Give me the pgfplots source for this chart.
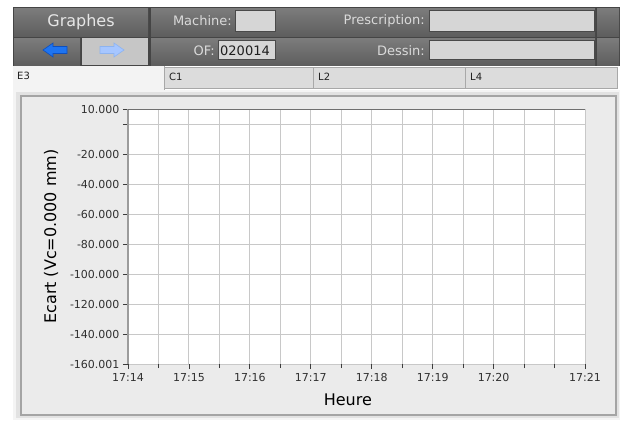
\documentclass[border=0pt]{standalone}
\usepackage{pgfplots}
\pgfplotsset{compat=1.18}
\usepackage{fontspec}
\setmainfont{DejaVu Sans}
\definecolor{darkbase}{HTML}{454545}
\definecolor{btntop}{HTML}{7C7C7C}
\definecolor{btnbot}{HTML}{5E5E5E}
\definecolor{inputbg}{HTML}{D6D6D6}
\definecolor{inputbd}{HTML}{4A4A4A}
\definecolor{labtxt}{HTML}{DADADA}
\definecolor{titletxt}{HTML}{E6E6E6}
\definecolor{panelbg}{HTML}{EBEBEB}
\definecolor{panelbd}{HTML}{A4A4A4}
\definecolor{frameA}{HTML}{F4F4F4}
\definecolor{frameB}{HTML}{E2E2E2}
\definecolor{tabbg}{HTML}{DCDCDC}
\definecolor{tabbd}{HTML}{A8A8A8}
\definecolor{tabsel}{HTML}{F3F3F3}
\definecolor{tabtxt}{HTML}{202020}
\definecolor{btnlight}{HTML}{C6C6C6}
\definecolor{gridc}{HTML}{C8C8C8}
\definecolor{blueA}{HTML}{1E74F0}
\definecolor{blueAd}{HTML}{0D4FBF}
\definecolor{blueB}{HTML}{A6C6FF}
\definecolor{blueBd}{HTML}{8DB3F0}
\definecolor{valtxt}{HTML}{1E1E1E}
\definecolor{tickc}{HTML}{3C3C3C}
\definecolor{ticktxt}{HTML}{303030}
\definecolor{yaxc}{HTML}{9C9C9C}
\definecolor{topc}{HTML}{707070}
\begin{document}
\begin{tikzpicture}
\path[use as bounding box, fill=white] (0,0) rectangle (627bp,-423bp);
\begin{scope}[x=1bp,y=-1bp]
  % dark header
  \fill[darkbase] (13,7) rectangle (620,66);
  % row 1
  \shade[top color=btntop,bottom color=btnbot] (14,8) rectangle (148,36);
  \shade[top color=btntop,bottom color=btnbot] (151,8) rectangle (595,36);
  \shade[top color=btntop,bottom color=btnbot] (597,8) rectangle (619,36);
  % row 2
  \shade[top color=btntop,bottom color=btnbot] (14,38) rectangle (80,65);
  \fill[btnlight] (82,38) rectangle (148,65);
  \shade[top color=btntop,bottom color=btnbot] (151,38) rectangle (595,65);
  \shade[top color=btntop,bottom color=btnbot] (597,38) rectangle (619,65);
  % title
  \node[text=titletxt, font=\fontsize{16bp}{18bp}\selectfont] at (81,22) {Graphes};
  % arrows
  \filldraw[fill=blueA, draw=blueAd, line width=0.6bp] (43,50) -- (53,43) -- (53,46.5) -- (67,46.5) -- (67,53.5) -- (53,53.5) -- (53,57) -- cycle;
  \filldraw[fill=blueB, draw=blueBd, line width=0.6bp] (124,50) -- (114,43) -- (114,46.5) -- (100,46.5) -- (100,53.5) -- (114,53.5) -- (114,57) -- cycle;
  % input boxes
  \filldraw[fill=inputbg, draw=inputbd, line width=1bp] (235,10) rectangle (275,31);
  \filldraw[fill=inputbg, draw=inputbd, line width=1bp] (429,10) rectangle (594,31);
  \filldraw[fill=inputbg, draw=inputbd, line width=1bp] (218,40) rectangle (275,59);
  \filldraw[fill=inputbg, draw=inputbd, line width=1bp] (429,40) rectangle (594,59);
  % labels
  \begin{scope}[every node/.style={text=labtxt, font=\fontsize{13bp}{15bp}\selectfont, anchor=east, inner sep=0pt}]
    \node at (232,21) {Machine:};
    \node at (425,21) {Prescription:};
    \node at (215,50.5) {OF:};
    \node at (425,50.5) {Dessin:};
  \end{scope}
  \node[anchor=west, inner sep=0pt, text=valtxt, font=\fontsize{13bp}{15bp}\selectfont] at (220,50.5) {020014};
  % tabs
  \filldraw[fill=tabbg, draw=tabbd, line width=0.8bp] (164,67) rectangle (313,88);
  \filldraw[fill=tabbg, draw=tabbd, line width=0.8bp] (313,67) rectangle (465,88);
  \filldraw[fill=tabbg, draw=tabbd, line width=0.8bp] (465,67) rectangle (617,88);
  \fill[tabsel] (13,66) rectangle (164,90);
  \draw[tabbd, line width=0.8bp] (164,66) -- (164,90);
  \begin{scope}[every node/.style={text=tabtxt, font=\fontsize{10bp}{12bp}\selectfont, anchor=west, inner sep=0pt}]
    \node at (17,76) {E3};
    \node at (169,77) {C1};
    \node at (318,77) {L2};
    \node at (470,77) {L4};
  \end{scope}
  % content panel
  \fill[frameA] (13,90) rectangle (620,420);
  \fill[frameB] (16,92) rectangle (619,418);
  \filldraw[fill=panelbg, draw=panelbd, line width=1.5bp] (21,96) rectangle (616,415);
\end{scope}
\begin{axis}[
  at={(128bp,-364bp)}, anchor=south west,
  width=457bp, height=255bp, scale only axis,
  xmin=0, xmax=7.5, ymin=-160.001, ymax=10,
  axis background/.style={fill=white},
  axis line style={draw=none},
  xtick={0,1,2,3,4,5,6,7.5},
  xticklabels={17:14,17:15,17:16,17:17,17:18,17:19,17:20,17:21},
  minor xtick={0.5,1.5,2.5,3.5,4.5,5.5,6.5,7},
  ytick={10,0,-20,-40,-60,-80,-100,-120,-140,-160.001},
  yticklabels={10.000,,-20.000,-40.000,-60.000,-80.000,-100.000,-120.000,-140.000,-160.001},
  xtick pos=bottom, ytick pos=left,
  tick align=outside,
  major tick length=5bp, minor tick length=4bp,
  every tick/.style={draw=tickc, line width=0.8bp},
  grid=both,
  major grid style={draw=gridc, line width=1bp},
  minor grid style={draw=gridc, line width=1bp},
  /pgf/number format/assume math mode=true,
  tick label style={text=ticktxt, font=\fontsize{11bp}{13bp}\selectfont},
  xticklabel style={yshift=-1bp},
  xlabel={Heure},
  ylabel={Ecart (Vc=0.000 mm)},
  label style={font=\fontsize{16bp}{18bp}\selectfont, text=black},
  xlabel style={at={(axis description cs:0.481,-0.141)}, anchor=center},
  ylabel style={at={(axis description cs:-0.1685,0.5)}, anchor=center},
  clip=false,
]
\addplot[draw=none, mark=none] coordinates {(0,10) (7.5,-160.001)};
\draw[yaxc, line width=2bp] (rel axis cs:0,0) -- (rel axis cs:0,1);
\draw[topc, line width=1bp] (rel axis cs:0,1) -- (rel axis cs:1,1);
\end{axis}
\end{tikzpicture}
\end{document}
